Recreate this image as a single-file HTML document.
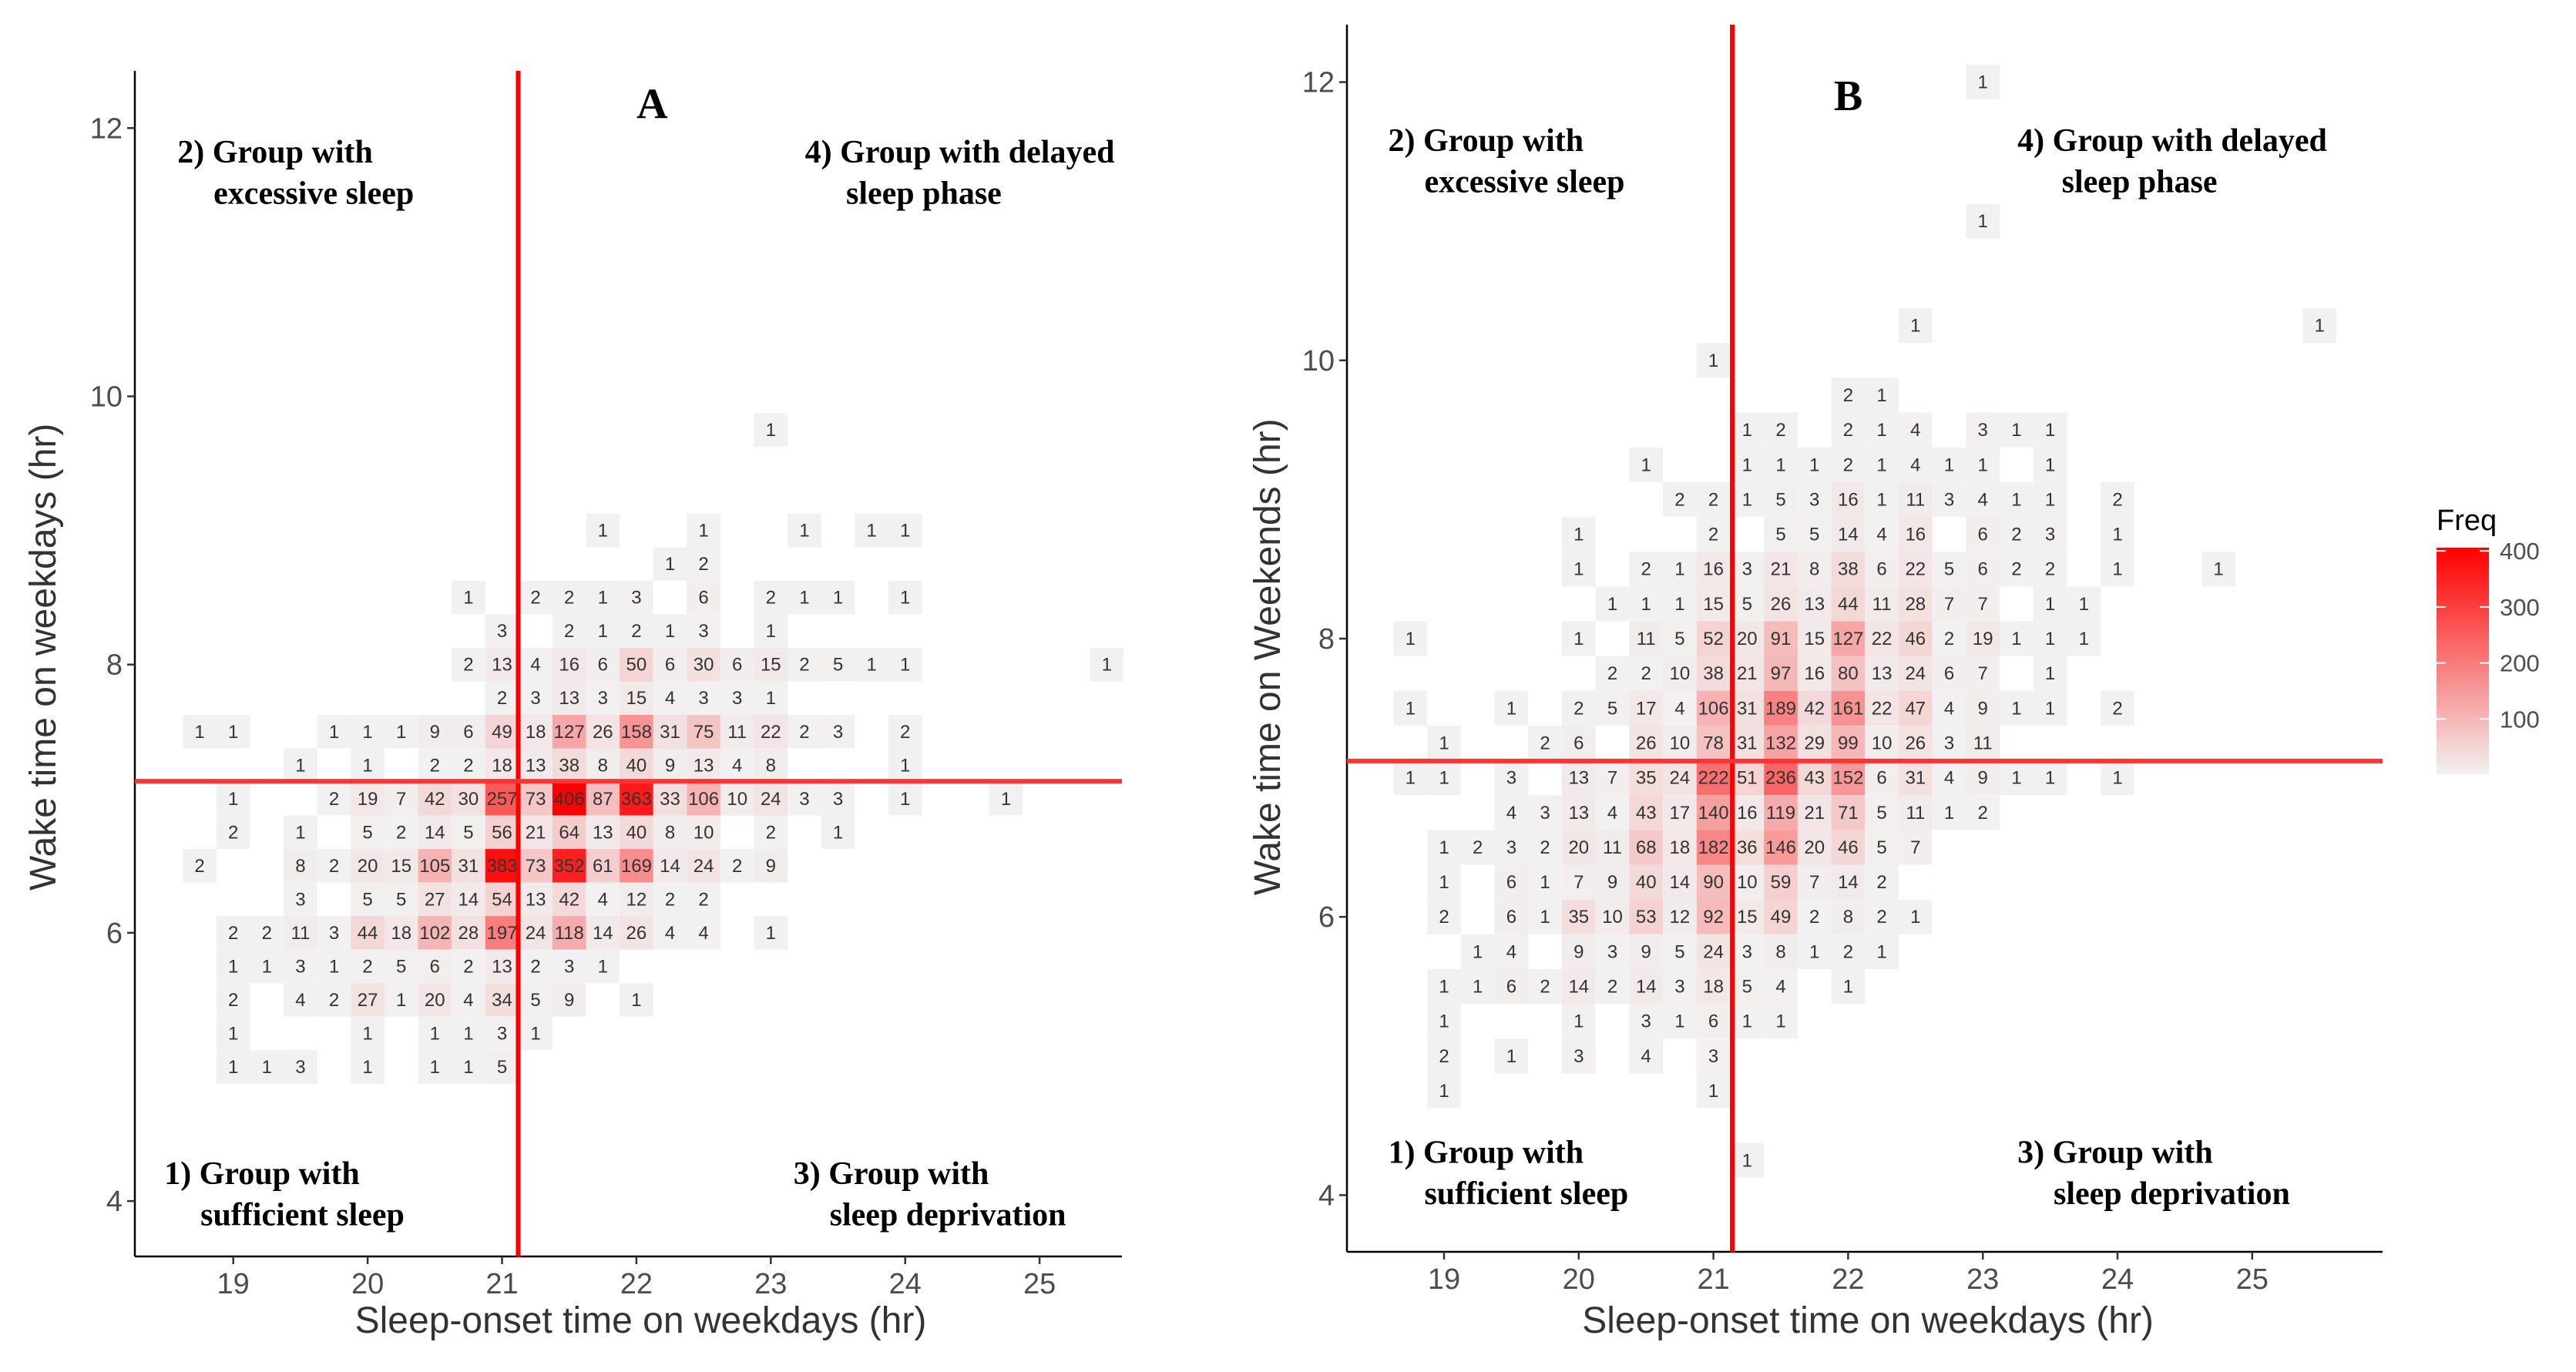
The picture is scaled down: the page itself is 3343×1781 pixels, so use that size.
<!DOCTYPE html>
<html><head><meta charset="utf-8">
<style>
html,body{margin:0;padding:0;background:#fff;}
svg{display:block;}
.tick{font-family:"Liberation Sans",sans-serif;font-size:38px;fill:#4d4d4d;}
.title{font-family:"Liberation Sans",sans-serif;font-size:48px;fill:#333;}
.ann{font-family:"Liberation Serif",serif;font-size:42px;font-weight:bold;fill:#000;}
.cellt{font-family:"Liberation Sans",sans-serif;font-size:24px;fill:#333;}
</style></head>
<body>
<svg id="chart" width="3343" height="1781" viewBox="0 0 3343 1781" xmlns="http://www.w3.org/2000/svg">
<rect x="0" y="0" width="3343" height="1781" fill="#fff"/>
<g id="panelA"></g>
<g id="panelB"></g>
<g id="legend"></g>
</svg>
<script>
// ---- data: columns are sleep-onset hours 18.5 .. 25.5 step 0.25 ----
const colStart = 18.5;
const colStep = 0.25;
const xTicks = [19, 20, 21, 22, 23, 24, 25];
const yTicks = [4, 6, 8, 10, 12];
const legendTicks = [100, 200, 300, 400];

// Panel A (weekday wake time)
const aRowY = [9.75, 9.0, 8.75, 8.5, 8.25, 8.0, 7.75, 7.5, 7.25, 7.0, 6.75, 6.5, 6.25, 6.0, 5.75, 5.5, 5.25, 5.0];
const aRows = [
 [0,0,0,0,0,0,0,0,0,0,0,0,0,0,0,0,0,0,1],
 [0,0,0,0,0,0,0,0,0,0,0,0,0,1,0,0,1,0,0,1,0,1,1],
 [0,0,0,0,0,0,0,0,0,0,0,0,0,0,0,1,2],
 [0,0,0,0,0,0,0,0,0,1,0,2,2,1,3,0,6,0,2,1,1,0,1],
 [0,0,0,0,0,0,0,0,0,0,3,0,2,1,2,1,3,0,1],
 [0,0,0,0,0,0,0,0,0,2,13,4,16,6,50,6,30,6,15,2,5,1,1,0,0,0,0,0,1],
 [0,0,0,0,0,0,0,0,0,0,2,3,13,3,15,4,3,3,1],
 [0,1,1,0,0,1,1,1,9,6,49,18,127,26,158,31,75,11,22,2,3,0,2],
 [0,0,0,0,1,0,1,0,2,2,18,13,38,8,40,9,13,4,8,0,0,0,1],
 [0,0,1,0,0,2,19,7,42,30,257,73,406,87,363,33,106,10,24,3,3,0,1,0,0,1],
 [0,0,2,0,1,0,5,2,14,5,56,21,64,13,40,8,10,0,2,0,1],
 [0,2,0,0,8,2,20,15,105,31,383,73,352,61,169,14,24,2,9],
 [0,0,0,0,3,0,5,5,27,14,54,13,42,4,12,2,2],
 [0,0,2,2,11,3,44,18,102,28,197,24,118,14,26,4,4,0,1],
 [0,0,1,1,3,1,2,5,6,2,13,2,3,1],
 [0,0,2,0,4,2,27,1,20,4,34,5,9,0,1],
 [0,0,1,0,0,0,1,0,1,1,3,1],
 [0,0,1,1,3,0,1,0,1,1,5]
];
const aCutX = 21.12;
const aCutY = 7.13;

// Panel B (weekend wake time)
const bRowY = [12.0, 11.0, 10.25, 10.0, 9.75, 9.5, 9.25, 9.0, 8.75, 8.5, 8.25, 8.0, 7.75, 7.5, 7.25, 7.0, 6.75, 6.5, 6.25, 6.0, 5.75, 5.5, 5.25, 5.0, 4.75, 4.25];
const bRows = [
 [0,0,0,0,0,0,0,0,0,0,0,0,0,0,0,0,0,0,1],
 [0,0,0,0,0,0,0,0,0,0,0,0,0,0,0,0,0,0,1],
 [0,0,0,0,0,0,0,0,0,0,0,0,0,0,0,0,1,0,0,0,0,0,0,0,0,0,0,0,1],
 [0,0,0,0,0,0,0,0,0,0,1],
 [0,0,0,0,0,0,0,0,0,0,0,0,0,0,2,1],
 [0,0,0,0,0,0,0,0,0,0,0,1,2,0,2,1,4,0,3,1,1],
 [0,0,0,0,0,0,0,0,1,0,0,1,1,1,2,1,4,1,1,0,1],
 [0,0,0,0,0,0,0,0,0,2,2,1,5,3,16,1,11,3,4,1,1,0,2],
 [0,0,0,0,0,0,1,0,0,0,2,0,5,5,14,4,16,0,6,2,3,0,1],
 [0,0,0,0,0,0,1,0,2,1,16,3,21,8,38,6,22,5,6,2,2,0,1,0,0,1],
 [0,0,0,0,0,0,0,1,1,1,15,5,26,13,44,11,28,7,7,0,1,1],
 [0,1,0,0,0,0,1,0,11,5,52,20,91,15,127,22,46,2,19,1,1,1],
 [0,0,0,0,0,0,0,2,2,10,38,21,97,16,80,13,24,6,7,0,1],
 [0,1,0,0,1,0,2,5,17,4,106,31,189,42,161,22,47,4,9,1,1,0,2],
 [0,0,1,0,0,2,6,0,26,10,78,31,132,29,99,10,26,3,11],
 [0,1,1,0,3,0,13,7,35,24,222,51,236,43,152,6,31,4,9,1,1,0,1],
 [0,0,0,0,4,3,13,4,43,17,140,16,119,21,71,5,11,1,2],
 [0,0,1,2,3,2,20,11,68,18,182,36,146,20,46,5,7],
 [0,0,1,0,6,1,7,9,40,14,90,10,59,7,14,2],
 [0,0,2,0,6,1,35,10,53,12,92,15,49,2,8,2,1],
 [0,0,0,1,4,0,9,3,9,5,24,3,8,1,2,1],
 [0,0,1,1,6,2,14,2,14,3,18,5,4,0,1],
 [0,0,1,0,0,0,1,0,3,1,6,1,1],
 [0,0,2,0,1,0,3,0,4,0,3],
 [0,0,1,0,0,0,0,0,0,0,1],
 [0,0,0,0,0,0,0,0,0,0,0,1]
];
const bCutX = 21.14;
const bCutY = 7.12;

const NS = "http://www.w3.org/2000/svg";
function mk(tag, attrs, parent) {
  const e = document.createElementNS(NS, tag);
  for (const k in attrs) e.setAttribute(k, attrs[k]);
  parent.appendChild(e);
  return e;
}
const FMAX = 406;
function fillFor(v) {
  const t = Math.min(v / FMAX, 1);
  const r = Math.round(242 + 13 * t);
  const g = Math.round(242 * (1 - t));
  const b = Math.round(242 * (1 - t));
  return "rgb(" + r + "," + g + "," + b + ")";
}

function drawPanel(g, cfg) {
  const xs = h => cfg.x0 + (h - 19) * cfg.xPer;
  const ys = v => cfg.y0 + (12 - v) * cfg.yPer;
  const cw = colStep * cfg.xPer, ch = 0.25 * cfg.yPer;
  cfg.rowY.forEach((yv, ri) => {
    cfg.rows[ri].forEach((val, ci) => {
      if (!val) return;
      const hx = colStart + ci * colStep;
      const cx = xs(hx), cy = ys(yv);
      const r = mk("rect", {x: cx - cw / 2, y: cy - ch / 2, width: cw, height: ch, fill: fillFor(val)}, g);
      
      
      const t = mk("text", {x: cx, y: cy + 8, "text-anchor": "middle", class: "cellt"}, g);
      
      
      t.textContent = val;
    });
  });
  const ax = mk("line", {x1: cfg.left, y1: cfg.top, x2: cfg.left, y2: cfg.bottom, stroke: "#000", "stroke-width": 2.5}, g);
  
  
  const bx = mk("line", {x1: cfg.left, y1: cfg.bottom, x2: cfg.right, y2: cfg.bottom, stroke: "#000", "stroke-width": 2.5}, g);
  
  
  xTicks.forEach(h => {
    const x = xs(h);
    const tl = mk("line", {x1: x, y1: cfg.bottom, x2: x, y2: cfg.bottom + 10, stroke: "#333", "stroke-width": 2.5}, g);
    
    
    const tt = mk("text", {x: x, y: cfg.bottom + 48, "text-anchor": "middle", class: "tick"}, g);
    
    
    tt.textContent = h;
  });
  yTicks.forEach(v => {
    const y = ys(v);
    const tl = mk("line", {x1: cfg.left - 10, y1: y, x2: cfg.left, y2: y, stroke: "#333", "stroke-width": 2.5}, g);
    
    
    const tt = mk("text", {x: cfg.left - 16, y: y + 13, "text-anchor": "end", class: "tick"}, g);
    
    
    tt.textContent = v;
  });
  const vx = xs(cfg.cutX), hy = ys(cfg.cutY);
  const vl = mk("line", {x1: vx, y1: cfg.top, x2: vx, y2: cfg.bottom, stroke: "#ff0000", "stroke-width": 6}, g);
  
  
  const hl = mk("line", {x1: cfg.left, y1: hy, x2: cfg.right, y2: hy, stroke: "#ff3333", "stroke-width": 6}, g);
  
  
  const xt = mk("text", {x: cfg.xTitleX, y: 1730, "text-anchor": "middle", class: "title"}, g);
  
  
  xt.textContent = "Sleep-onset time on weekdays (hr)";
  const yt = mk("text", {x: 0, y: 0, "text-anchor": "middle", class: "title", transform: "translate(" + cfg.yTitleX + "," + cfg.yTitleY + ") rotate(-90)"}, g);
  
  
  yt.textContent = cfg.yTitle;
  const pl = mk("text", {x: cfg.letterX, y: cfg.letterY, "text-anchor": "middle", class: "ann", style: "font-size:56px"}, g);
  
  
  pl.textContent = cfg.letter;
  cfg.anns.forEach(a => {
    const at = mk("text", {x: a[0], y: a[1], class: "ann"}, g);
    
    
    at.textContent = a[2];
  });
}

const s = 2.132;
drawPanel(document.getElementById("panelA"), {
  x0: 302.7, xPer: 174.4, y0: 166.3, yPer: 174.1,
  left: 175, right: 1456, top: 92, bottom: 1631,
  rowY: aRowY, rows: aRows, cutX: aCutX, cutY: aCutY,
  xTitleX: 390 * s, yTitleX: 72, yTitleY: 400 * s, yTitle: "Wake time on weekdays (hr)",
  letter: "A", letterX: 397 * s, letterY: 72 * s,
  anns: [
    [108 * s, 99 * s, "2) Group with"], [130 * s, 124 * s, "excessive sleep"],
    [490 * s, 99 * s, "4) Group with delayed"], [515 * s, 124 * s, "sleep phase"],
    [100 * s, 721 * s, "1) Group with"], [122 * s, 746 * s, "sufficient sleep"],
    [483 * s, 721 * s, "3) Group with"], [505 * s, 746 * s, "sleep deprivation"]
  ]
});
drawPanel(document.getElementById("panelB"), {
  x0: 1874, xPer: 174.8, y0: 106.6, yPer: 180.6,
  left: 1748, right: 3092, top: 32, bottom: 1625,
  rowY: bRowY, rows: bRows, cutX: bCutX, cutY: bCutY,
  xTitleX: 1137 * s, yTitleX: 779 * s, yTitleY: 400 * s, yTitle: "Wake time on Weekends (hr)",
  letter: "B", letterX: 1125 * s, letterY: 67 * s,
  anns: [
    [845 * s, 92 * s, "2) Group with"], [867 * s, 117 * s, "excessive sleep"],
    [1228 * s, 92 * s, "4) Group with delayed"], [1255 * s, 117 * s, "sleep phase"],
    [845 * s, 708 * s, "1) Group with"], [867 * s, 733 * s, "sufficient sleep"],
    [1228 * s, 708 * s, "3) Group with"], [1250 * s, 733 * s, "sleep deprivation"]
  ]
});

(function () {
  const g = document.getElementById("legend");
  const defs = mk("defs", {}, g);
  const lg = mk("linearGradient", {id: "freqGrad", x1: 0, y1: 1, x2: 0, y2: 0}, defs);
  for (let i = 0; i <= 10; i++) {
    mk("stop", {offset: (i * 10) + "%", "stop-color": fillFor(1 + (FMAX - 1) * i / 10)}, lg);
  }
  const lx = 3162, lw = 68, yb = 1006, per = 0.727;
  const ly = v => yb - v * per;
  const bar = mk("rect", {x: lx, y: ly(FMAX), width: lw, height: (FMAX - 1) * per, fill: "url(#freqGrad)"}, g);
  
  
  const tt = mk("text", {x: lx, y: 688, class: "tick", style: "fill:#000"}, g);
  
  
  tt.textContent = "Freq";
  legendTicks.forEach(v => {
    const tk = mk("line", {x1: lx, y1: ly(v), x2: lx + 12, y2: ly(v), stroke: "#fff", "stroke-width": 2}, g);
    
    
    const tk2 = mk("line", {x1: lx + lw - 12, y1: ly(v), x2: lx + lw, y2: ly(v), stroke: "#fff", "stroke-width": 2}, g);
    
    
    const lt = mk("text", {x: lx + lw + 14, y: ly(v) + 11, class: "tick", style: "font-size:31px"}, g);
    
    
    lt.textContent = v;
  });
})();
</script>
</body></html>
